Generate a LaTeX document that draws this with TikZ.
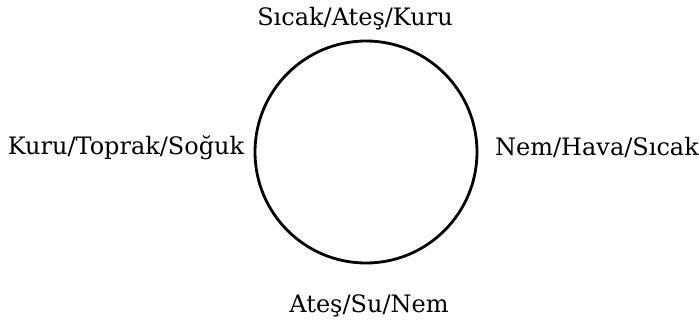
\documentclass[tikz,border=0pt]{standalone}
\usepackage{fontspec}
\setmainfont{DejaVu Serif}
\begin{document}
\begin{tikzpicture}[x=1pt,y=-1pt,
  lbl/.style={anchor=base,inner sep=0pt,font=\fontsize{24}{28}\selectfont}]
\useasboundingbox (0,0) rectangle (699,322);
\node[draw,circle,line width=2.8pt,minimum size=222pt,inner sep=0pt] (c) at (366,152) {};
\node[lbl] (top) at (355,25) {Sıcak/Ateş/Kuru};
\node[lbl] (left) at (126,154) {Kuru/Toprak/Soğuk};
\node[lbl] (right) at (597,155) {Nem/Hava/Sıcak};
\node[lbl] (bottom) at (369,312) {Ateş/Su/Nem};
\end{tikzpicture}
\end{document}
